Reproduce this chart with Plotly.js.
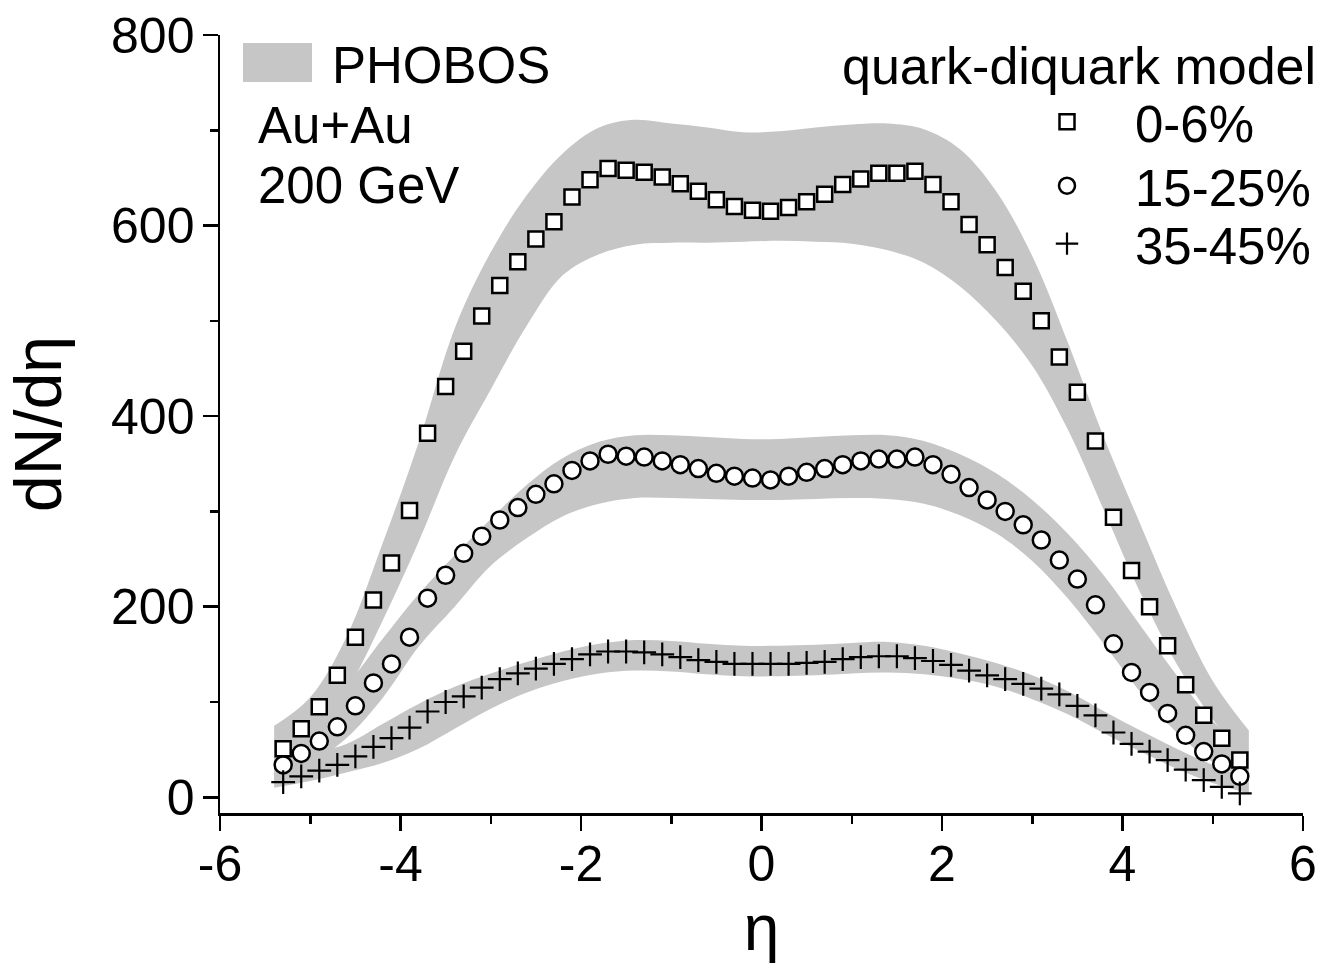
<!DOCTYPE html>
<html>
<head>
<meta charset="utf-8">
<script src="https://cdn.plot.ly/plotly-3.0.1.min.js"></script>
<style>html,body{margin:0;padding:0;background:#fff;}#chart{width:1334px;height:967px;}</style>
</head>
<body>
<div id="chart"></div>
<script>
// model points (quark-diquark model)
const eta = [-5.3,-5.1,-4.9,-4.7,-4.5,-4.3,-4.1,-3.9,-3.7,-3.5,-3.3,-3.1,-2.9,-2.7,-2.5,-2.3,-2.1,-1.9,-1.7,-1.5,-1.3,-1.1,-0.9,-0.7,-0.5,-0.3,-0.1,
             0.1,0.3,0.5,0.7,0.9,1.1,1.3,1.5,1.7,1.9,2.1,2.3,2.5,2.7,2.9,3.1,3.3,3.5,3.7,3.9,4.1,4.3,4.5,4.7,4.9,5.1,5.3];
const model_0_6 = [51,72,95,128,168,207,246,301,382,431,468,505,537,562,586,604,630,648,660,658,656,651,644,636,627,620,616,
                   615,619,625,633,643,649,655,655,657,643,625,601,580,556,531,500,462,425,374,294,238,200,159,118,86,62,39];
const model_15_25 = [34,46,59,74,96,120,140,168,209,233,256,274,291,304,318,329,343,353,360,358,357,353,349,345,340,337,335,
                     333,337,341,345,349,353,355,355,357,349,339,325,312,300,286,270,249,229,202,161,131,110,88,65,48,35,22];
const model_35_45 = [16,22,28,34,43,53,62,73,90,100,106,115,124,130,135,140,145,150,153,153,152,150,147,144,142,140,140,
                     140,140,141,142,145,147,148,148,146,143,139,133,128,124,119,114,108,96,86,68,56,48,39,29,18,11,4];

// PHOBOS bands (lower / upper edges)
const bandEta = [-5.4,-5.0,-4.6,-4.2,-3.8,-3.4,-3.0,-2.6,-2.2,-1.8,-1.4,-1.0,-0.6,-0.2,0.2,0.6,1.0,1.4,1.8,2.2,2.6,3.0,3.4,3.8,4.2,4.6,5.0,5.4];
const phobos_0_6_hi = [75,105,168,266,372,492,572,632,676,703,711,707,703,698,699,703,706,707,701,680,636,568,476,376,286,198,122,70];
const phobos_0_6_lo = [28,55,110,185,268,358,428,495,548,570,580,582,582,583,584,583,581,574,561,536,500,453,385,300,214,140,82,35];
const phobos_15_25_hi = [52,80,117,166,213,254,292,328,356,373,380,380,378,376,376,378,380,380,374,360,340,312,276,232,180,128,80,48];
const phobos_15_25_lo = [18,35,62,104,158,200,243,272,295,308,314,314,313,312,312,313,314,313,308,296,277,248,208,160,110,68,37,18];
const phobos_35_45_hi = [36,46,56,77,98,116,130,142,153,161,165,164,161,159,159,160,162,163,159,151,141,128,111,90,70,51,34,20];
const phobos_35_45_lo = [10,17,26,36,51,72,93,110,122,130,133,132,129,127,127,128,130,131,129,124,116,103,87,67,48,30,15,4];

const xTickVals = [-6,-4,-2,0,2,4,6];
const xTickText = ['-6','-4','-2','0','2','4','6'];
const yTickVals = [0,200,400,600,800];
const yTickText = ['0','200','400','600','800'];

const seriesNames = ['0-6%','15-25%','35-45%'];

const FONT = 'Liberation Sans, Arial, Helvetica, sans-serif';
const BAND = 'rgb(198,198,198)';

function bandPair(lo, hi) {
  return [
    {x: bandEta, y: lo, type: 'scatter', mode: 'lines', line: {width: 0, shape: 'spline', smoothing: 1.0},
     showlegend: false, hoverinfo: 'skip'},
    {x: bandEta, y: hi, type: 'scatter', mode: 'lines', line: {width: 0, shape: 'spline', smoothing: 1.0},
     fill: 'tonexty', fillcolor: BAND, showlegend: false, hoverinfo: 'skip'}
  ];
}

const traces = [].concat(
  bandPair(phobos_0_6_lo, phobos_0_6_hi),
  bandPair(phobos_15_25_lo, phobos_15_25_hi),
  bandPair(phobos_35_45_lo, phobos_35_45_hi),
  [
    {x: eta, y: model_0_6, name: seriesNames[0], type: 'scatter', mode: 'markers', legend: 'legend',
     marker: {symbol: 'square', size: 15, color: 'white', line: {color: 'black', width: 2.5}}},
    {x: eta, y: model_15_25, name: seriesNames[1], type: 'scatter', mode: 'markers', legend: 'legend2',
     marker: {symbol: 'circle', size: 17, color: 'white', line: {color: 'black', width: 2.5}}},
    {x: eta, y: model_35_45, name: seriesNames[2], type: 'scatter', mode: 'markers', legend: 'legend3',
     marker: {symbol: 'cross-thin', size: 17, color: 'black', line: {color: 'black', width: 2.2}}}
  ]
);

const W = 1334, H = 967, ML = 220, MR = 31, MT = 35, MB = 154;
const PW = W - ML - MR, PH = H - MT - MB;
const px = v => (v - ML) / PW;
const py = v => (H - MB - v) / PH;

function legendAt(topPx) {
  return {
    x: px(999), y: py(topPx), xanchor: 'left', yanchor: 'top',
    bgcolor: 'rgba(0,0,0,0)', borderwidth: 0,
    font: {family: FONT, size: 51, color: 'black'},
    itemwidth: 126
  };
}

const layout = {
  width: W, height: H,
  margin: {l: ML, r: MR, t: MT, b: MB, pad: 0},
  paper_bgcolor: 'white', plot_bgcolor: 'white',
  font: {family: FONT, color: 'black', size: 50},
  showlegend: true,
  xaxis: {
    range: [-6, 6], tickmode: 'array', tickvals: xTickVals, ticktext: xTickText,
    ticks: 'outside', ticklen: 15, tickwidth: 2.5, tickcolor: 'black',
    showline: true, linewidth: 2.5, linecolor: 'black', showgrid: false, zeroline: false,
    tickfont: {family: FONT, size: 50, color: 'black'}, ticklabelstandoff: -10,
    minor: {tickmode: 'linear', tick0: -6, dtick: 1, ticks: 'outside', ticklen: 8, tickwidth: 2.5, tickcolor: 'black', showgrid: false},
    title: {text: 'η', font: {family: FONT, size: 64, color: 'black'}, standoff: 15}
  },
  yaxis: {
    range: [-16.5, 800], tickmode: 'array', tickvals: yTickVals, ticktext: yTickText,
    ticks: 'outside', ticklen: 15, tickwidth: 2.5, tickcolor: 'black',
    showline: true, linewidth: 2.5, linecolor: 'black', showgrid: false, zeroline: false,
    tickfont: {family: FONT, size: 50, color: 'black'}, ticklabelstandoff: -2,
    minor: {tickmode: 'linear', tick0: 0, dtick: 100, ticks: 'outside', ticklen: 8, tickwidth: 2.5, tickcolor: 'black', showgrid: false},
    title: {text: 'dN/dη', font: {family: FONT, size: 66, color: 'black'}, standoff: 28}
  },
  legend: legendAt(82),
  legend2: legendAt(146),
  legend3: legendAt(204),
  shapes: [
    {type: 'rect', xref: 'paper', yref: 'paper', x0: px(243), x1: px(312), y0: py(82), y1: py(43),
     fillcolor: BAND, line: {width: 0}}
  ],
  annotations: [
    {xref: 'paper', yref: 'paper', x: px(1318), y: py(66), xanchor: 'right', yanchor: 'middle',
     text: 'quark-diquark model', showarrow: false, font: {family: FONT, size: 52, color: 'black'}},
    {xref: 'paper', yref: 'paper', x: px(330), y: py(65), xanchor: 'left', yanchor: 'middle',
     text: 'PHOBOS', showarrow: false, font: {family: FONT, size: 51, color: 'black'}},
    {xref: 'paper', yref: 'paper', x: px(256), y: py(126), xanchor: 'left', yanchor: 'middle',
     text: 'Au+Au', showarrow: false, font: {family: FONT, size: 51, color: 'black'}},
    {xref: 'paper', yref: 'paper', x: px(256), y: py(186), xanchor: 'left', yanchor: 'middle',
     text: '200 GeV', showarrow: false, font: {family: FONT, size: 51, color: 'black'}}
  ]
};

Plotly.newPlot('chart', traces, layout, {staticPlot: true, displayModeBar: false});
</script>
</body>
</html>
